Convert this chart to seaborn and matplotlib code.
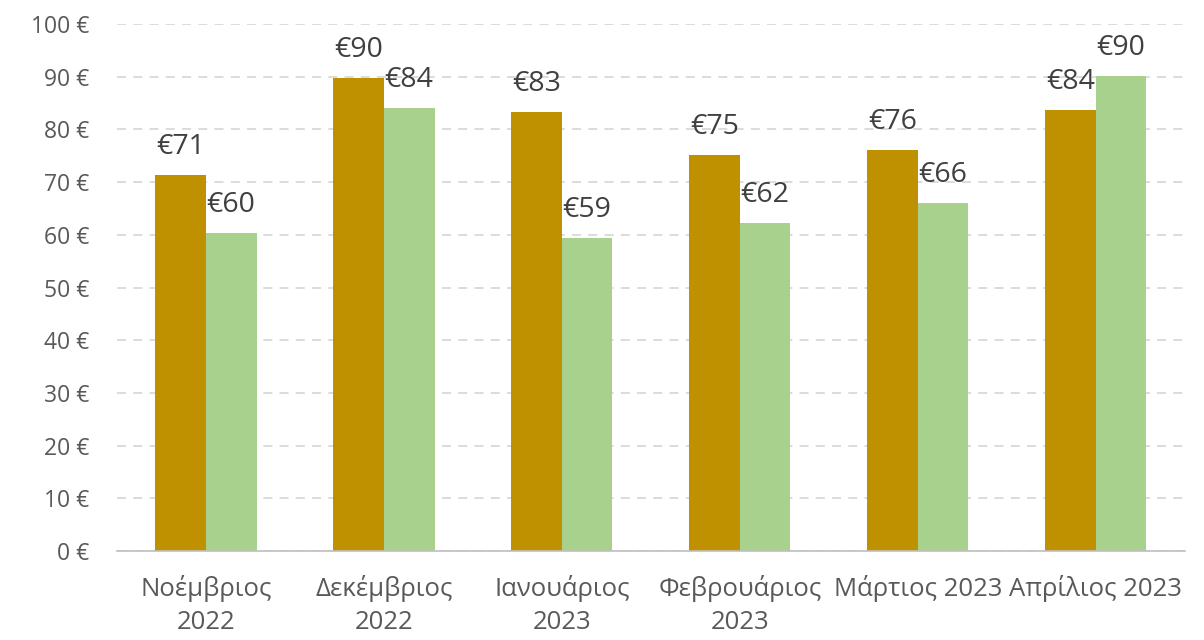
import numpy as np
import pandas as pd
import matplotlib
matplotlib.use("Agg")
import matplotlib.pyplot as plt
import seaborn as sns

# monthly values
months = ["Νοέμβριος\n2022", "Δεκέμβριος\n2022", "Ιανουάριος\n2023",
          "Φεβρουάριος\n2023", "Μάρτιος 2023", "Απρίλιος 2023"]
series_a = [71.3, 89.8, 83.3, 75.1, 76.1, 83.7]
series_b = [60.4, 84.1, 59.4, 62.2, 66.0, 90.1]
series_names = ["A", "B"]
yticks = [0, 10, 20, 30, 40, 50, 60, 70, 80, 90, 100]

df = pd.DataFrame({
    "month": months * 2,
    "value": series_a + series_b,
    "series": [series_names[0]] * len(months) + [series_names[1]] * len(months),
})

sns.set_style("white")
plt.rcParams['font.family'] = ['Open Sans', 'DejaVu Sans']

fig = plt.figure(figsize=(12.04, 6.4), dpi=100)
ax = fig.add_axes([0.097, 0.139, 0.887, 0.8235])

sns.barplot(data=df, x="month", y="value", hue="series", order=months,
            palette=["#BF9000", "#A9D18E"], width=0.57, gap=0,
            saturation=1, legend=False, ax=ax, errorbar=None, linewidth=0)

# data labels
for cont, vals in zip(ax.containers, [series_a, series_b]):
    ax.bar_label(cont, labels=["€%.0f" % v for v in vals], padding=10,
                 fontsize=20.5, color="#404040")

ax.set_ylim(0, 100)
ax.set_xlim(-0.5, 5.5)
ax.set_yticks(yticks)
ax.set_yticklabels(["%d €" % t for t in yticks])
ax.yaxis.grid(True, linestyle=(0, (5, 4)), color="#D9D9D9", linewidth=1.3)
ax.set_axisbelow(True)
ax.set_xlabel("")
ax.set_ylabel("")

for s in ["left", "right", "top"]:
    ax.spines[s].set_visible(False)
ax.spines["bottom"].set_color("#BFBFBF")
ax.spines["bottom"].set_linewidth(1.2)

ax.set_xticks(np.arange(-0.5, 6, 1), minor=True)
ax.tick_params(axis="x", which="minor", length=8, color="#BFBFBF", width=1.2)
ax.tick_params(axis="x", which="major", length=0, pad=17, labelsize=18.5,
               labelcolor="#595959")
for lbl in ax.get_xticklabels():
    lbl.set_linespacing(1.45)
ax.tick_params(axis="y", length=0, pad=20, labelsize=16.5, labelcolor="#595959")

fig.savefig("out.png", dpi=100)
